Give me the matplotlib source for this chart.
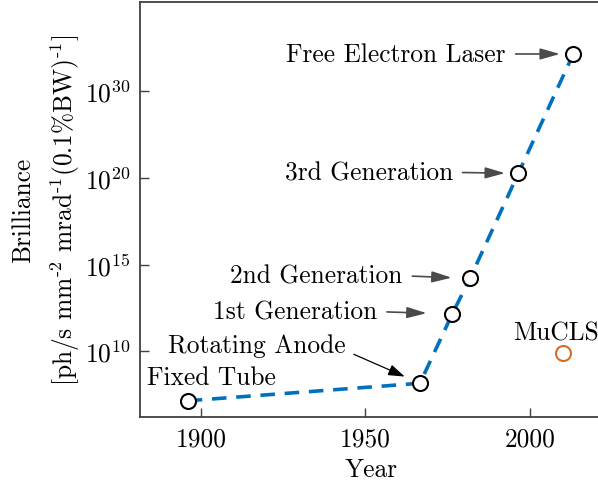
import numpy as np
import matplotlib
matplotlib.use("Agg")
import matplotlib.pyplot as plt

plt.rcParams['font.family'] = 'serif'
plt.rcParams['font.serif'] = ['cmr10']
plt.rcParams['mathtext.fontset'] = 'cm'
plt.rcParams['axes.formatter.use_mathtext'] = True
plt.rcParams['lines.scale_dashes'] = False

# fontes de raios X: ano e log10 do brilho
fontes = ["Fixed Tube", "Rotating Anode", "1st Generation", "2nd Generation",
          "3rd Generation", "Free Electron Laser"]
anos = [1896, 1966.6, 1976.4, 1981.8, 1996.5, 2013.2]
log_brilho = [7.15, 8.16, 12.15, 14.2, 20.5, 34.25]

mucls_ano = [2010.1]
mucls_log_brilho = [9.9]

yticks_exp = [10, 15, 20, 30]
yticks_lbl = [r'$10^{10}$', r'$10^{15}$', r'$10^{20}$', r'$10^{30}$']
xticks_ano = [1900, 1950, 2000]

AZUL = '#0072BD'
LARANJA = '#DD6A22'
CINZA = '#4a4a4a'
EIXO = '#404040'


# escala do eixo y: segmentos 10-15-20-30 com o mesmo espaçamento
def fwd(e):
    e = np.asarray(e, dtype=float)
    return np.where(e <= 20, (e - 10) / 5.0, 2 + (e - 20) / 10.0)


def inv(u):
    u = np.asarray(u, dtype=float)
    return np.where(u <= 2, 10 + 5.0 * u, 20 + 10.0 * (u - 2))


fig = plt.figure(figsize=(5.98, 4.89), dpi=100)
ax = fig.add_axes([0.2341, 0.1446, 0.773, 0.8493])
ax.set_yscale('function', functions=(fwd, inv))

ax.plot(anos, log_brilho, color=AZUL, lw=2.6, dashes=(10.5, 7), zorder=2)
ax.plot(anos, log_brilho, 'o', ms=10.8, mfc='white', mec='black', mew=1.5,
        ls='none', zorder=3)
ax.plot(mucls_ano, mucls_log_brilho, 'o', ms=10.8, mfc='white', mec=LARANJA,
        mew=1.5, ls='none', zorder=3)

# anotações com setas horizontais (deslocamento do texto, shrinkB)
setas = {
    "1st Generation": (-54, 1.7, 18.4),
    "2nd Generation": (-48.5, 1.9, 13.2),
    "3rd Generation": (-47.2, 0.7, 9.6),
    "Free Electron Laser": (-48.5, 0.0, 9.6),
}
for nome, ano, lb in zip(fontes, anos, log_brilho):
    if nome in setas:
        dx, dy, sb = setas[nome]
        ax.annotate(nome, xy=(ano, lb), xytext=(dx, dy), textcoords='offset points',
                    ha='right', va='center', fontsize=18.3,
                    arrowprops=dict(arrowstyle='-|>,head_length=0.6,head_width=0.17',
                                    mutation_scale=20, color=CINZA, lw=1.2,
                                    shrinkA=5, shrinkB=sb, relpos=(1, 0.5)))

ax.annotate("Rotating Anode", xy=(anos[1], log_brilho[1]), xytext=(-53.3, 27.6),
            textcoords='offset points', ha='right', va='center', fontsize=18.3,
            arrowprops=dict(arrowstyle='-|>,head_length=0.5,head_width=0.17',
                            mutation_scale=20, color='black', lw=0.9,
                            shrinkA=4, shrinkB=12, relpos=(1, 0.25)))
ax.annotate("Fixed Tube", xy=(anos[0], log_brilho[0]), xytext=(-29, 17),
            textcoords='offset points', ha='left', va='center', fontsize=18.3)
ax.annotate("MuCLS", xy=(mucls_ano[0], mucls_log_brilho[0]), xytext=(-5, 15),
            textcoords='offset points', ha='center', va='center', fontsize=18.3)

ax.set_xlim(1881.5, 2022)
ax.set_ylim(6.2, 40.24)
ax.set_xticks(xticks_ano)
ax.set_xticklabels([str(a) for a in xticks_ano])
ax.set_yticks(yticks_exp)
ax.set_yticklabels(yticks_lbl)
ax.minorticks_off()
ax.tick_params(direction='in', length=6.5, width=1.0, color=EIXO, labelsize=18.3,
               pad=7, top=False, right=False)

for s in ax.spines.values():
    s.set_color(EIXO)
    s.set_linewidth(1.3)

ax.set_xlabel('Year', fontsize=18.3, labelpad=5)
ax.set_ylabel('Brilliance\n' + r'[ph/s mm$^{\text{-2}}$ mrad$^{\text{-1}}$(0.1%BW)$^{\text{-1}}$]',
              fontsize=18.3, labelpad=1.7, linespacing=1.55)

fig.savefig('out.png', dpi=100)
